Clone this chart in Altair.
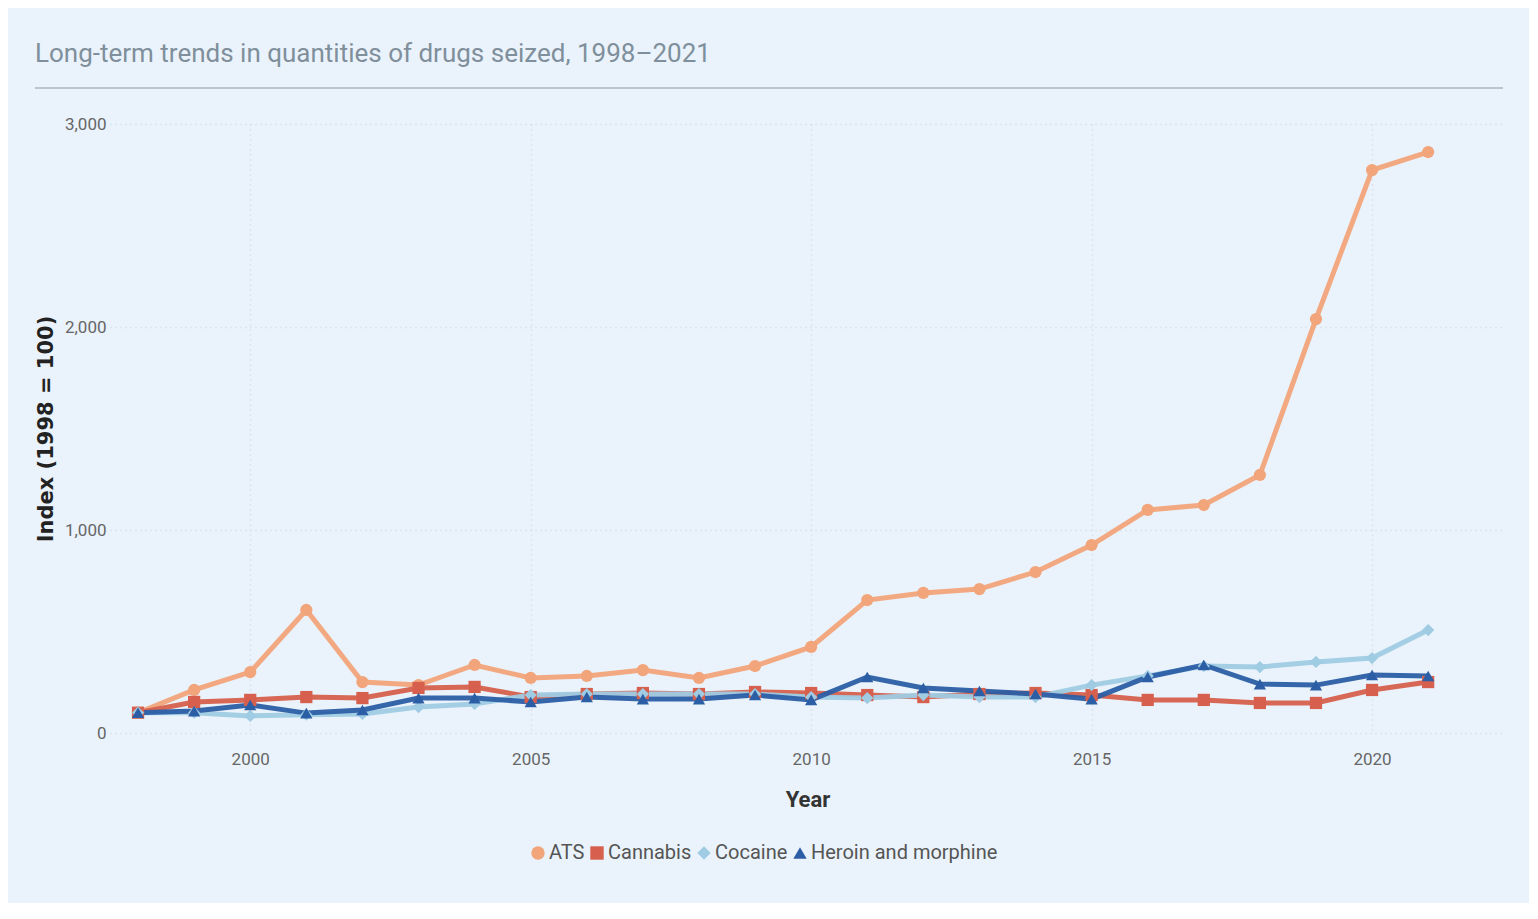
import altair as alt
import pandas as pd

years = list(range(1998, 2022))
ats = [100, 212, 300, 606, 251, 236, 335, 271, 281, 310, 271, 330, 424, 655, 690, 709, 793, 926, 1099, 1123, 1271, 2039, 2773, 2862]
cannabis = [100, 153, 163, 177, 172, 222, 227, 177, 192, 197, 192, 202, 197, 187, 177, 192, 197, 187, 163, 163, 148, 148, 212, 251]
cocaine = [100, 100, 84, 90, 94, 128, 143, 187, 192, 192, 192, 192, 177, 172, 187, 177, 177, 236, 281, 330, 325, 350, 369, 507]
heroin = [100, 108, 138, 98, 113, 172, 172, 153, 177, 167, 167, 187, 163, 276, 222, 207, 192, 167, 276, 335, 241, 236, 286, 281]

series_names = ["ATS", "Cannabis", "Cocaine", "Heroin and morphine"]
series_colors = ["#f2a47a", "#d6604d", "#9fcbe3", "#2c5ea5"]
series_shapes = ["circle", "square", "diamond", "triangle-up"]

rows = []
for name, vals in zip(series_names, [ats, cannabis, cocaine, heroin]):
    for y, v in zip(years, vals):
        rows.append({"Year": y, "Value": v, "Drug": name})
df = pd.DataFrame(rows)

COND = "Roboto, Liberation Sans Narrow, sans-serif"

x = alt.X("Year:Q",
          scale=alt.Scale(domain=[1997.5, 2022.37], nice=False, zero=False),
          axis=alt.Axis(values=[2000, 2005, 2010, 2015, 2020], format="d",
                        title="Year", titleFont=COND, titleFontSize=22, titleFontWeight="bold",
                        titleColor="#333", titlePadding=22,
                        labelFont=COND, labelFontSize=17, labelColor="#666", labelPadding=18,
                        domain=False, ticks=False, grid=True, gridDash=[1, 4],
                        gridColor="#cdd6de", gridWidth=1.5))
y = alt.Y("Value:Q",
          scale=alt.Scale(domain=[0, 3000], nice=False),
          axis=alt.Axis(values=[0, 1000, 2000, 3000], format=",d",
                        title="Index (1998 = 100)", titleFont="DejaVu Sans", titleFontSize=21,
                        titleFontWeight="bold", titleColor="#222", titlePadding=8,
                        labelFont=COND, labelFontSize=17, labelColor="#666", labelPadding=4,
                        domain=False, ticks=False, grid=True, gridDash=[1, 4],
                        gridColor="#cdd6de", gridWidth=1.5))
legend = alt.Legend(title=None, orient="none", legendX=418, legendY=719,
                    direction="horizontal", labelFont=COND, labelFontSize=20,
                    labelColor="#555", symbolSize=180, symbolStrokeWidth=0,
                    columnPadding=2, labelOffset=1, symbolOpacity=1, labelLimit=0)
color = alt.Color("Drug:N", scale=alt.Scale(domain=series_names, range=series_colors),
                  legend=legend)
shape = alt.Shape("Drug:N", scale=alt.Scale(domain=series_names, range=series_shapes),
                  legend=legend)

lines = alt.Chart(df).mark_line(strokeWidth=5, opacity=0.95).encode(x=x, y=y, color=color)
points = alt.Chart(df).mark_point(filled=True, size=150, opacity=1).encode(
    x=x, y=y, color=color, shape=shape)

sep = alt.Chart(df).mark_rule(color="#b8c5cf", strokeWidth=1.5).encode(
    x=alt.value(-75), x2=alt.value(1393), y=alt.value(-36))

chart = alt.layer(sep, lines, points).properties(
    width=1395, height=609,
    autosize=alt.AutoSizeParams(type="none"),
    padding={"left": 102, "top": 116, "right": 24, "bottom": 170},
    background="#eaf3fb",
    title=alt.TitleParams("Long-term trends in quantities of drugs seized, 1998\u20132021",
                          anchor="start", frame="group", dx=-75, offset=20,
                          font=COND, fontSize=26, fontWeight="normal", color="#7f8f9b"),
).configure_view(stroke=None)

chart.save("out.html", embed_options={"renderer": "svg", "actions": False})
